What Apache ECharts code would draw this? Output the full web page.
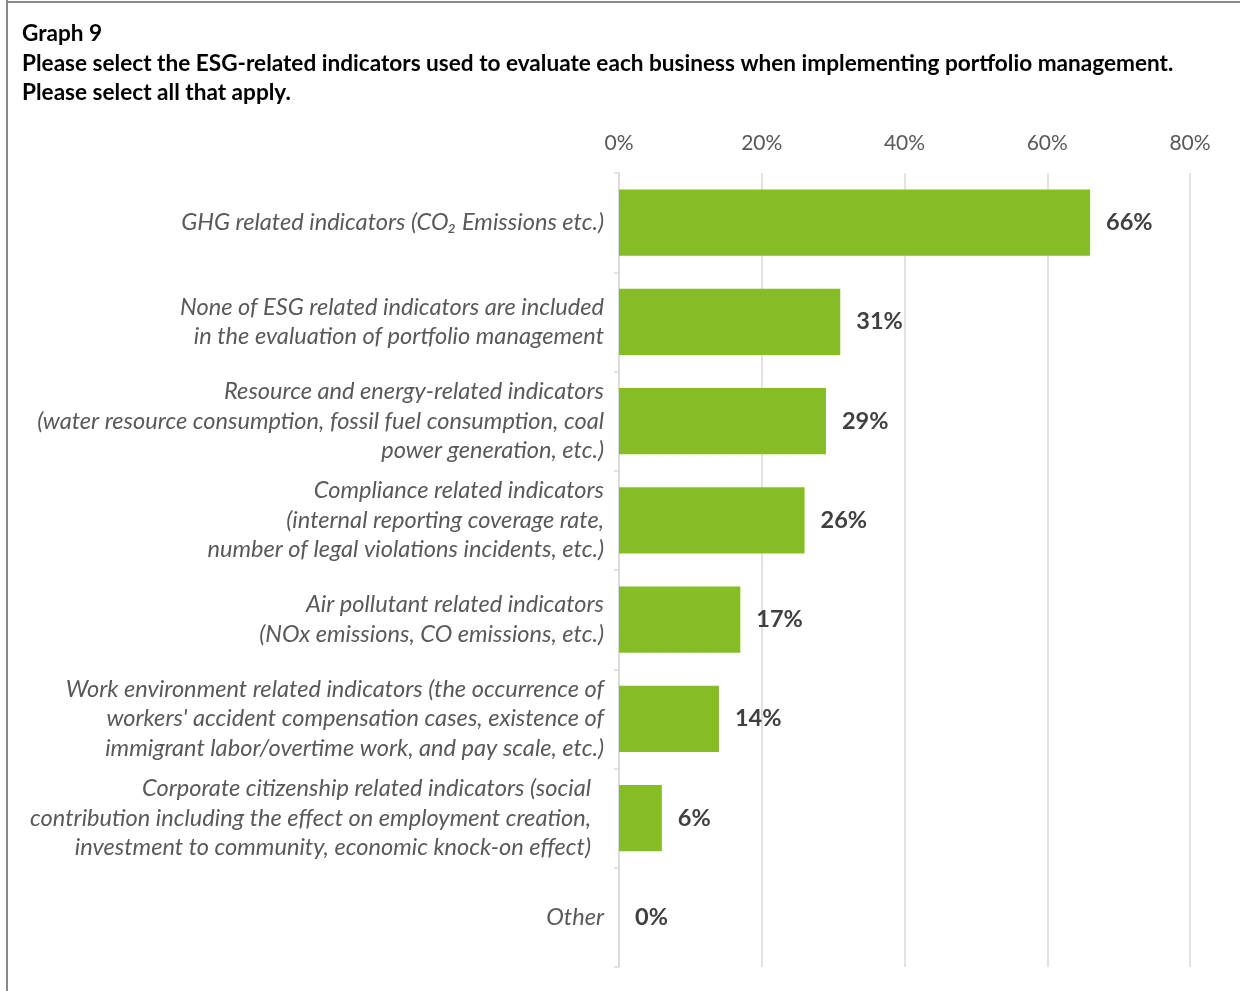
<!DOCTYPE html>
<html>
<head>
<meta charset="utf-8">
<script src="https://cdn.jsdelivr.net/npm/echarts@6/dist/echarts.min.js"></script>
<style>
  html, body { margin: 0; padding: 0; background: #fff; }
  #chart { width: 1240px; height: 991px; }
</style>
</head>
<body>
<div id="chart"></div>
<script>
// Survey categories (top to bottom) and share of respondents, in percent
const categories = [
  'GHG related indicators (CO\u2082 Emissions etc.)',
  'None of ESG related indicators are included\nin the evaluation of portfolio management',
  'Resource and energy-related indicators\n(water resource consumption, fossil fuel consumption, coal\npower generation, etc.)',
  'Compliance related indicators\n(internal reporting coverage rate,\nnumber of legal violations incidents, etc.)',
  'Air pollutant related indicators\n(NOx emissions, CO emissions, etc.)',
  "Work environment related indicators (the occurrence of\nworkers' accident compensation cases, existence of\nimmigrant labor/overtime work, and pay scale, etc.)",
  'Corporate citizenship related indicators (social\ncontribution including the effect on employment creation,\ninvestment to community, economic knock-on effect)',
  'Other'
];
const shares = [66, 31, 29, 26, 17, 14, 6, 0];
const axisTicks = [0, 20, 40, 60, 80];

const FONT = 'Lato';
const chart = echarts.init(document.getElementById('chart'), null, { renderer: 'canvas' });

// the corporate citizenship label sits a little further from the axis
function categoryLabel(value, index) {
  if (index === 6) {
    return value.split('\n').map(function (line) { return '{inset|' + line + '}'; }).join('\n');
  }
  return value;
}

chart.setOption({
  backgroundColor: '#ffffff',
  animation: false,
  textStyle: { fontFamily: FONT },
  title: {
    left: 17,
    top: 14,
    text: 'Graph 9\nPlease select the ESG-related indicators used to evaluate each business when implementing portfolio management.\nPlease select all that apply.',
    textStyle: {
      fontFamily: FONT,
      fontSize: 22.6,
      fontWeight: 'bold',
      color: '#000000',
      lineHeight: 29.5
    }
  },
  graphic: [
    { type: 'line', shape: { x1: 7, y1: 0, x2: 7, y2: 991 }, style: { stroke: '#8a8a8a', lineWidth: 2 } },
    { type: 'line', shape: { x1: 6, y1: 2, x2: 1240, y2: 2 }, style: { stroke: '#8a8a8a', lineWidth: 2 } }
  ],
  grid: { left: 619, right: 50, top: 173, bottom: 24, containLabel: false },
  xAxis: {
    type: 'value',
    position: 'top',
    min: axisTicks[0],
    max: axisTicks[axisTicks.length - 1],
    interval: axisTicks[1] - axisTicks[0],
    axisLine: { show: false },
    axisTick: { show: false },
    axisLabel: {
      formatter: '{value}%',
      color: '#595959',
      fontSize: 21,
      margin: 19
    },
    splitLine: { show: true, lineStyle: { color: '#d9d9d9', width: 1.5 } }
  },
  yAxis: {
    type: 'category',
    inverse: true,
    data: categories,
    axisLine: { show: true, lineStyle: { color: '#d9d9d9', width: 1.5 } },
    axisTick: { show: true, length: 5, lineStyle: { color: '#d9d9d9', width: 1.5 } },
    axisLabel: {
      color: '#595959',
      fontSize: 23.6,
      fontStyle: 'italic',
      lineHeight: 29.5,
      margin: 15,
      align: 'right',
      formatter: categoryLabel,
      rich: {
        inset: {
          color: '#595959',
          fontSize: 23.6,
          fontStyle: 'italic',
          fontFamily: FONT,
          lineHeight: 29.5,
          padding: [0, 13, 0, 0]
        }
      }
    }
  },
  series: [{
    type: 'bar',
    data: shares,
    barCategoryGap: '33%',
    itemStyle: { color: '#86bc25' },
    label: {
      show: true,
      position: 'right',
      distance: 16,
      formatter: '{c}%',
      color: '#404040',
      fontSize: 23.5,
      fontWeight: 'bold'
    }
  }]
});
</script>
</body>
</html>
